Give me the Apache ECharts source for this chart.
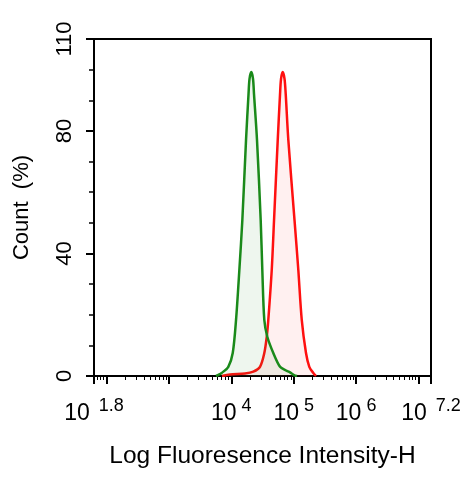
<!DOCTYPE html>
<html><head><meta charset="utf-8">
<script src="https://cdn.jsdelivr.net/npm/echarts@6/dist/echarts.min.js"></script>
<style>html,body{margin:0;padding:0;background:#fff}#c{width:476px;height:479px}</style>
</head><body><div id="c"></div>
<script>
// x values are log10(intensity)
var greenX = [3.755,3.787,3.846,3.952,4.023,4.076,4.129,4.177,4.236,4.276,4.292,4.321,4.348,4.364,4.412,4.471,4.497,4.529,4.577,4.673,4.781,4.877,4.941,5.005,5.053];
var greenY = [0,0.3,1.0,3,7.5,18.3,34.6,50.9,77,92,97,99.2,97,92,77,50.9,34.6,18.3,12.8,7.5,3,1.8,1.2,0.3,0];
var redX = [3.851,3.979,4.220,4.353,4.460,4.529,4.568,4.593,4.648,4.685,4.744,4.781,4.797,4.824,4.853,4.872,4.914,5.013,5.074,5.129,5.197,5.250,5.314,5.358];
var redY = [0,0.5,0.8,1.4,3,7.5,12.8,18.3,34.6,50.9,77,92,97,99.2,97,92,77,50.9,34.6,18.3,7.5,3,1,0];
var xLabelExps = [1.8,4,5,6,7.2];
var xMajorTicks = [1.8,2,3,4,5,6,7,7.2];
var yLabels = [0,40,80,110];
var yTicks = [0,10,20,30,40,50,60,70,80,90,100,110];

var xMin = 1.8, xMax = 7.2;
var xMinorTicks = [];
for (var d = 1; d <= 7; d++) {
  for (var k = 2; k <= 9; k++) {
    var v = d + Math.log10(k);
    if (v > xMin && v < xMax) xMinorTicks.push(v);
  }
}
function pairs(xs, ys){ return xs.map(function(x,i){return [x, ys[i]];}); }

var font = 'Liberation Sans, Arial, sans-serif';
var chart = echarts.init(document.getElementById('c'));
chart.setOption({
  animation: false,
  grid: {left: 94, right: 45, top: 39, bottom: 103, show: true, borderColor: '#000', borderWidth: 2, backgroundColor: 'transparent'},
  xAxis: [{
    type: 'value', min: xMin, max: xMax,
    axisLine: {show: true, lineStyle: {color: '#000', width: 2}},
    splitLine: {show: false},
    axisTick: {show: true, length: 8, lineStyle: {color: '#000', width: 2}, customValues: xMajorTicks},
    axisLabel: {
      show: true, margin: 21, customValues: xLabelExps,
      formatter: function(v){
        var s = (Math.round(v*10)/10).toString();
        var st = s.indexOf('.') >= 0 ? 'sd' : 's';
        return '{b|10}{' + st + '|' + s + '}';
      },
      rich: {
        b: {fontSize: 23, fontFamily: font, color: '#000', verticalAlign: 'bottom', padding: [5,0,0,0]},
        s: {fontSize: 18, fontFamily: font, color: '#000', verticalAlign: 'top', padding: [0,0,0,5]},
        sd: {fontSize: 18, fontFamily: font, color: '#000', verticalAlign: 'top', padding: [0,0,0,9]}
      }
    },
    name: 'Log Fluoresence Intensity-H', nameLocation: 'middle', nameGap: 68,
    nameTextStyle: {fontSize: 24.5, fontFamily: font, color: '#000'}
  }, {
    type: 'value', min: xMin, max: xMax, gridIndex: 0, position: 'bottom',
    axisLine: {show: false}, splitLine: {show: false}, axisLabel: {show: false},
    axisTick: {show: true, length: 4, lineStyle: {color: '#000', width: 1}, customValues: xMinorTicks}
  }],
  yAxis: [{
    type: 'value', min: 0, max: 110,
    axisLine: {show: true, lineStyle: {color: '#000', width: 2}},
    splitLine: {show: false},
    axisTick: {show: true, length: 8, lineStyle: {color: '#000', width: 2}, customValues: yLabels},
    axisLabel: {show: true, customValues: yLabels, rotate: 90, margin: 18, fontSize: 22, fontFamily: font, color: '#000'},
    name: 'Count  (%)', nameLocation: 'middle', nameGap: 61, nameRotate: 90,
    nameTextStyle: {fontSize: 22, fontFamily: font, color: '#000'}
  }, {
    type: 'value', min: 0, max: 110, position: 'left',
    axisLine: {show: false}, splitLine: {show: false}, axisLabel: {show: false},
    axisTick: {show: true, length: 5, lineStyle: {color: '#000', width: 1.5}, customValues: yTicks}
  }],
  series: [{
    type: 'line', name: 'control', data: pairs(greenX, greenY), smooth: 0.3, symbol: 'none',
    lineStyle: {color: '#1a8a1a', width: 2.5}, itemStyle: {color: '#1a8a1a'},
    areaStyle: {color: 'rgba(40,140,40,0.11)'}, z: 3
  }, {
    type: 'line', name: 'sample', data: pairs(redX, redY), smooth: 0.3, symbol: 'none',
    lineStyle: {color: '#ff1010', width: 2.5}, itemStyle: {color: '#ff1010'},
    areaStyle: {color: 'rgba(255,40,40,0.10)'}, z: 2
  }]
});
</script></body></html>
